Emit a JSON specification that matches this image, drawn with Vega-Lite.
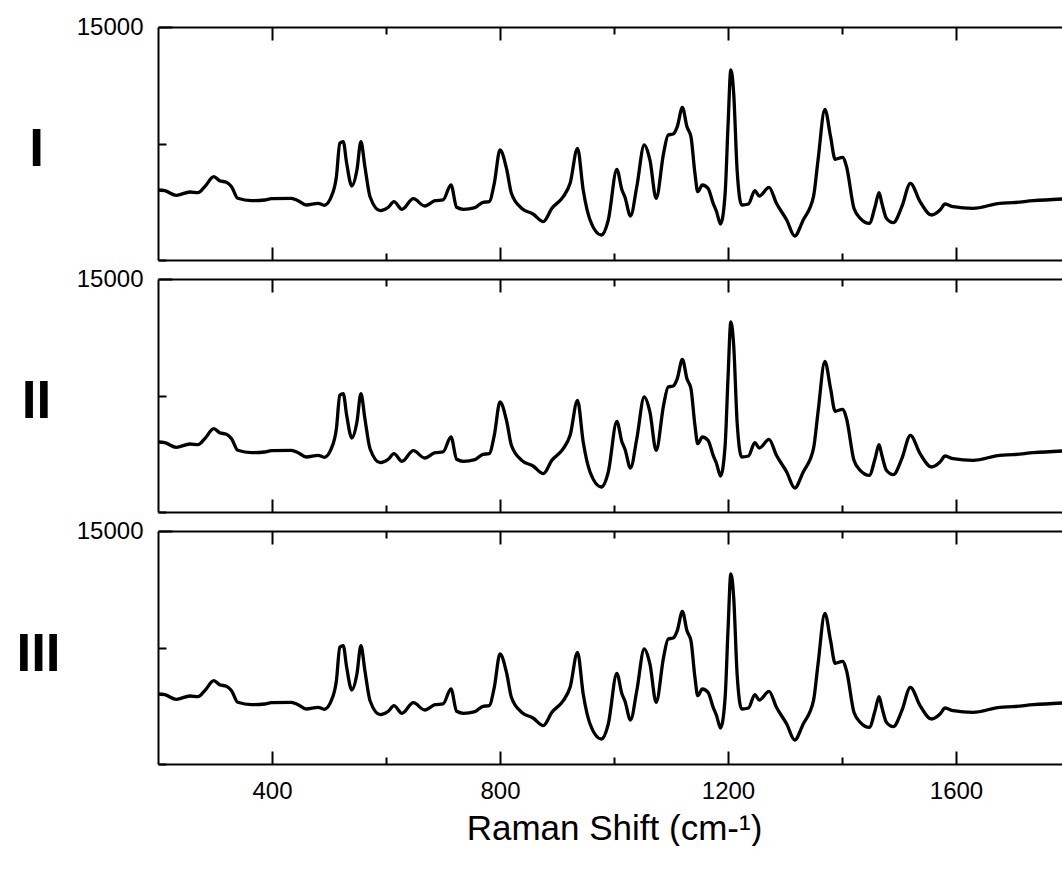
{
  "$schema": "https://vega.github.io/schema/vega-lite/v6.json",
  "background": "white",
  "padding": {"left": 15, "top": 15, "right": 0, "bottom": 0},
  "bounds": "flush",
  "spacing": 19,
  "config": {
    "view": {"stroke": null},
    "font": "Liberation Sans",
    "axis": {"grid": false, "domainColor": "black", "domainWidth": 2, "tickColor": "black", "tickWidth": 2, "labelColor": "black", "labelFont": "Liberation Sans", "labelFontSize": 24, "titleColor": "black", "titleFont": "Liberation Sans"}
  },
  "datasets": {
    "spectrum": [
      {"shift": 200, "intensity": 4506}, {"shift": 212, "intensity": 4461}, {"shift": 232, "intensity": 4165}, {"shift": 256, "intensity": 4378},
      {"shift": 270, "intensity": 4333}, {"shift": 282, "intensity": 4719}, {"shift": 298, "intensity": 5363}, {"shift": 308, "intensity": 5105},
      {"shift": 320, "intensity": 5002}, {"shift": 329, "intensity": 4719}, {"shift": 340, "intensity": 3972}, {"shift": 364, "intensity": 3818},
      {"shift": 387, "intensity": 3863}, {"shift": 399, "intensity": 3946}, {"shift": 434, "intensity": 3972}, {"shift": 446, "intensity": 3818},
      {"shift": 460, "intensity": 3541}, {"shift": 481, "intensity": 3650}, {"shift": 492, "intensity": 3521}, {"shift": 504, "intensity": 4075},
      {"shift": 513, "intensity": 5363}, {"shift": 519, "intensity": 7513}, {"shift": 525, "intensity": 7616}, {"shift": 531, "intensity": 6225},
      {"shift": 540, "intensity": 4764}, {"shift": 549, "intensity": 5794}, {"shift": 556, "intensity": 7616}, {"shift": 563, "intensity": 6007},
      {"shift": 572, "intensity": 4075}, {"shift": 590, "intensity": 3174}, {"shift": 604, "intensity": 3393}, {"shift": 614, "intensity": 3753},
      {"shift": 628, "intensity": 3264}, {"shift": 648, "intensity": 3946}, {"shift": 668, "intensity": 3476}, {"shift": 686, "intensity": 3818},
      {"shift": 700, "intensity": 3863}, {"shift": 714, "intensity": 4828}, {"shift": 724, "intensity": 3393}, {"shift": 736, "intensity": 3264},
      {"shift": 756, "intensity": 3367}, {"shift": 770, "intensity": 3715}, {"shift": 781, "intensity": 3753}, {"shift": 790, "intensity": 4938},
      {"shift": 800, "intensity": 7082}, {"shift": 812, "intensity": 5794}, {"shift": 820, "intensity": 4294}, {"shift": 838, "intensity": 3328},
      {"shift": 858, "intensity": 2961}, {"shift": 876, "intensity": 2466}, {"shift": 891, "intensity": 3328}, {"shift": 911, "intensity": 4075},
      {"shift": 923, "intensity": 4938}, {"shift": 936, "intensity": 7191}, {"shift": 946, "intensity": 4506}, {"shift": 958, "intensity": 2575},
      {"shift": 978, "intensity": 1609}, {"shift": 990, "intensity": 2575}, {"shift": 1005, "intensity": 5839}, {"shift": 1014, "intensity": 4506},
      {"shift": 1019, "intensity": 4075}, {"shift": 1029, "intensity": 2833}, {"shift": 1040, "intensity": 4719}, {"shift": 1053, "intensity": 7403},
      {"shift": 1063, "intensity": 6438}, {"shift": 1074, "intensity": 3972}, {"shift": 1087, "intensity": 6869}, {"shift": 1095, "intensity": 8047},
      {"shift": 1104, "intensity": 8112}, {"shift": 1111, "intensity": 8582}, {"shift": 1120, "intensity": 9830}, {"shift": 1128, "intensity": 8582},
      {"shift": 1135, "intensity": 7938}, {"shift": 1142, "intensity": 5582}, {"shift": 1147, "intensity": 4397}, {"shift": 1155, "intensity": 4828},
      {"shift": 1165, "intensity": 4616}, {"shift": 1174, "intensity": 3650}, {"shift": 1180, "intensity": 3109}, {"shift": 1187, "intensity": 2318},
      {"shift": 1195, "intensity": 4294}, {"shift": 1200, "intensity": 8582}, {"shift": 1205, "intensity": 12232}, {"shift": 1210, "intensity": 10732},
      {"shift": 1216, "intensity": 5794}, {"shift": 1224, "intensity": 3541}, {"shift": 1236, "intensity": 3605}, {"shift": 1247, "intensity": 4461},
      {"shift": 1255, "intensity": 4120}, {"shift": 1272, "intensity": 4680}, {"shift": 1285, "intensity": 3650}, {"shift": 1303, "intensity": 2575},
      {"shift": 1317, "intensity": 1545}, {"shift": 1332, "intensity": 2575}, {"shift": 1350, "intensity": 4075}, {"shift": 1358, "intensity": 6438},
      {"shift": 1370, "intensity": 9702}, {"shift": 1380, "intensity": 7938}, {"shift": 1388, "intensity": 6483}, {"shift": 1401, "intensity": 6612},
      {"shift": 1408, "intensity": 6007}, {"shift": 1421, "intensity": 3328}, {"shift": 1432, "intensity": 2685}, {"shift": 1448, "intensity": 2363},
      {"shift": 1458, "intensity": 3431}, {"shift": 1465, "intensity": 4333}, {"shift": 1470, "intensity": 3650}, {"shift": 1478, "intensity": 2685},
      {"shift": 1490, "intensity": 2401}, {"shift": 1505, "intensity": 3431}, {"shift": 1520, "intensity": 4938}, {"shift": 1537, "intensity": 3753},
      {"shift": 1557, "intensity": 2897}, {"shift": 1572, "intensity": 3219}, {"shift": 1581, "intensity": 3605}, {"shift": 1595, "intensity": 3431},
      {"shift": 1630, "intensity": 3328}, {"shift": 1677, "intensity": 3650}, {"shift": 1700, "intensity": 3689}, {"shift": 1736, "intensity": 3818},
      {"shift": 1786, "intensity": 3927}
    ]
  },
  "vconcat": [
    {
      "width": 904, "height": 233,
      "data": {"name": "spectrum"},
      "layer": [
        {
          "mark": {"type": "line", "color": "black", "strokeWidth": 3.3, "interpolate": "monotone"},
          "encoding": {
            "x": {"field": "shift", "type": "quantitative", "scale": {"domain": [200, 1786], "nice": false},
                  "axis": {"orient": "bottom", "values": [400, 600, 800, 1000, 1200, 1400, 1600], "labels": false, "title": null,
                           "tickSize": {"condition": {"test": "datum.value % 400 == 0", "value": -13}, "value": -7}}},
            "y": {"field": "intensity", "type": "quantitative", "scale": {"domain": [0, 15000], "nice": false},
                  "axis": {"values": [0, 7500, 15000], "labelExpr": "datum.value == 15000 ? '15000' : ''", "labelPadding": 29,
                           "tickSize": {"condition": {"test": "datum.value == 15000", "value": -14}, "value": -8},
                           "title": "I", "titleAngle": 0, "titleFontSize": 53, "titleFontWeight": "bold", "titleAlign": "center", "titleBaseline": "middle", "titleX": -122, "titleY": 122}}
          }
        },
        {
          "mark": {"type": "line", "strokeOpacity": 0, "interpolate": "monotone"},
          "encoding": {
            "x": {"field": "shift", "type": "quantitative", "scale": {"domain": [200, 1786], "nice": false},
                  "axis": {"orient": "top", "values": [400, 600, 800, 1000, 1200, 1400, 1600], "labels": false, "title": null,
                           "tickSize": {"condition": {"test": "datum.value % 400 == 0", "value": -13}, "value": -7}}},
            "y": {"field": "intensity", "type": "quantitative"}
          }
        }
      ]
    },
    {
      "width": 904, "height": 233,
      "data": {"name": "spectrum"},
      "layer": [
        {
          "mark": {"type": "line", "color": "black", "strokeWidth": 3.3, "interpolate": "monotone"},
          "encoding": {
            "x": {"field": "shift", "type": "quantitative", "scale": {"domain": [200, 1786], "nice": false},
                  "axis": {"orient": "bottom", "values": [400, 600, 800, 1000, 1200, 1400, 1600], "labels": false, "title": null,
                           "tickSize": {"condition": {"test": "datum.value % 400 == 0", "value": -13}, "value": -7}}},
            "y": {"field": "intensity", "type": "quantitative", "scale": {"domain": [0, 15000], "nice": false},
                  "axis": {"values": [0, 7500, 15000], "labelExpr": "datum.value == 15000 ? '15000' : ''", "labelPadding": 29,
                           "tickSize": {"condition": {"test": "datum.value == 15000", "value": -14}, "value": -8},
                           "title": "II", "titleAngle": 0, "titleFontSize": 53, "titleFontWeight": "bold", "titleAlign": "center", "titleBaseline": "middle", "titleX": -122, "titleY": 122}}
          }
        },
        {
          "mark": {"type": "line", "strokeOpacity": 0, "interpolate": "monotone"},
          "encoding": {
            "x": {"field": "shift", "type": "quantitative", "scale": {"domain": [200, 1786], "nice": false},
                  "axis": {"orient": "top", "values": [400, 600, 800, 1000, 1200, 1400, 1600], "labels": false, "title": null,
                           "tickSize": {"condition": {"test": "datum.value % 400 == 0", "value": -13}, "value": -7}}},
            "y": {"field": "intensity", "type": "quantitative"}
          }
        }
      ]
    },
    {
      "width": 904, "height": 233,
      "data": {"name": "spectrum"},
      "layer": [
        {
          "mark": {"type": "line", "color": "black", "strokeWidth": 3.3, "interpolate": "monotone"},
          "encoding": {
            "x": {"field": "shift", "type": "quantitative", "scale": {"domain": [200, 1786], "nice": false},
                  "axis": {"orient": "bottom", "values": [400, 600, 800, 1000, 1200, 1400, 1600], "format": "d",
                           "labelExpr": "datum.value % 400 == 0 ? datum.label : ''", "labelPadding": 28,
                           "tickSize": {"condition": {"test": "datum.value % 400 == 0", "value": -13}, "value": -7},
                           "title": "Raman Shift (cm-¹)", "titleFontSize": 35, "titleFontWeight": "normal", "titlePadding": 8, "titleX": 456}},
            "y": {"field": "intensity", "type": "quantitative", "scale": {"domain": [0, 15000], "nice": false},
                  "axis": {"values": [0, 7500, 15000], "labelExpr": "datum.value == 15000 ? '15000' : ''", "labelPadding": 29,
                           "tickSize": {"condition": {"test": "datum.value == 15000", "value": -14}, "value": -8},
                           "title": "III", "titleAngle": 0, "titleFontSize": 53, "titleFontWeight": "bold", "titleAlign": "center", "titleBaseline": "middle", "titleX": -120, "titleY": 123}}
          }
        },
        {
          "mark": {"type": "line", "strokeOpacity": 0, "interpolate": "monotone"},
          "encoding": {
            "x": {"field": "shift", "type": "quantitative", "scale": {"domain": [200, 1786], "nice": false},
                  "axis": {"orient": "top", "values": [400, 600, 800, 1000, 1200, 1400, 1600], "labels": false, "title": null,
                           "tickSize": {"condition": {"test": "datum.value % 400 == 0", "value": -13}, "value": -7}}},
            "y": {"field": "intensity", "type": "quantitative"}
          }
        }
      ]
    }
  ]
}
